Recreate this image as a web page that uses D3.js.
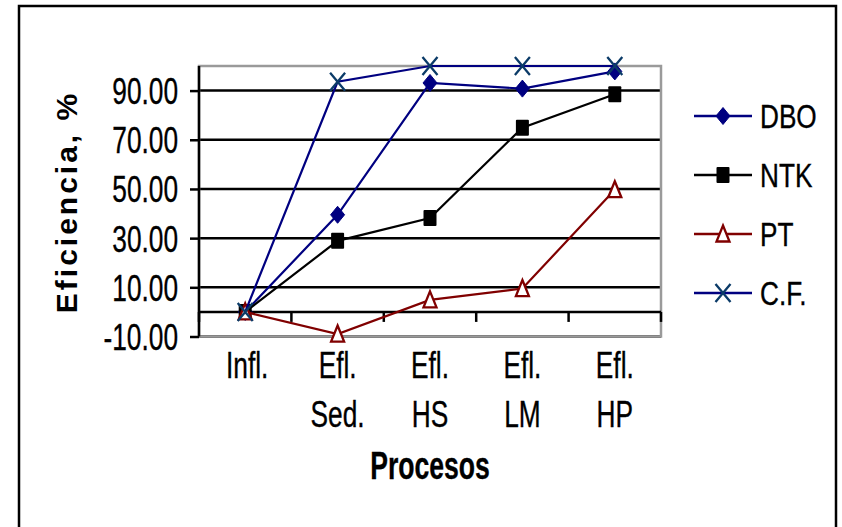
<!DOCTYPE html>
<html>
<head>
<meta charset="utf-8">
<script src="https://cdn.jsdelivr.net/npm/d3@7"></script>
<style>
  html, body { margin: 0; padding: 0; background: #fff; }
  svg { display: block; }
</style>
</head>
<body>
<svg id="chart" width="842" height="527"></svg>
<script>
// Process stages (category axis); a space marks the line break in the label
const categories = ["Infl.", "Efl. Sed.", "Efl. HS", "Efl. LM", "Efl. HP"];

// Removal efficiency (%) per stage
const dbo = [0, 39.5, 93.1, 90.8, 97.8];
const ntk = [0, 28.9, 38.2, 74.9, 88.5];
const pt  = [0, -9.0, 4.9, 9.5, 49.7];
const cf  = [0, 93.6, 100, 100, 100];

const seriesNames = ["DBO", "NTK", "PT", "C.F."];
const yTicks = [-10, 10, 30, 50, 70, 90];

const series = [
  { name: seriesNames[0], values: dbo, line: "#000080", marker: "diamond" },
  { name: seriesNames[1], values: ntk, line: "#000000", marker: "square" },
  { name: seriesNames[2], values: pt,  line: "#800000", marker: "triangle" },
  { name: seriesNames[3], values: cf,  line: "#000080", marker: "cross" }
];

const FONT = "Liberation Sans, Arial, sans-serif";
const SX = 0.73;            // horizontal squeeze to get a narrow face

const svg = d3.select("#chart");

// condensed text placed at (x, y)
function narrowText(parent, x, y, str, o = {}) {
  const sx = o.sx || SX;
  return parent.append("text")
    .attr("transform", `translate(${x},${y}) scale(${sx},1)`)
    .attr("font-family", FONT)
    .attr("font-size", o.size || 36)
    .attr("font-weight", o.weight || "normal")
    .attr("text-anchor", o.anchor || "start")
    .attr("dy", o.dy || 0)
    .attr("fill", "#000")
    .attr("stroke", "#000").attr("stroke-width", 0.35)
    .text(str);
}

// outer chart frame
svg.append("rect")
  .attr("x", 19).attr("y", 6)
  .attr("width", 817).attr("height", 540)
  .attr("fill", "#fff").attr("stroke", "#000").attr("stroke-width", 2.5);

const plot = { left: 199, right: 661, top: 66, bottom: 336.5 };

const x = d3.scaleBand().domain(categories).range([plot.left, plot.right]).padding(0);
const y = d3.scaleLinear().domain([-10, 100]).range([plot.bottom, plot.top]);
const cx = c => x(c) + x.bandwidth() / 2;

// horizontal gridlines
svg.append("g").selectAll("line").data(yTicks).join("line")
  .attr("x1", plot.left).attr("x2", plot.right)
  .attr("y1", d => y(d)).attr("y2", d => y(d))
  .attr("stroke", "#000").attr("stroke-width", 2.5);

// plot area border
svg.append("rect")
  .attr("x", plot.left).attr("y", y(100))
  .attr("width", plot.right - plot.left).attr("height", y(-10) - y(100))
  .attr("fill", "none").attr("stroke", "#9a9a9a").attr("stroke-width", 2.5);

// value axis on the left
const fmt = d => d3.format(".2f")(d).replace("\u2212", "-");
const yAxis = d3.axisLeft(y).tickValues(yTicks).tickSize(9).tickFormat(fmt);
const gy = svg.append("g").attr("transform", `translate(${plot.left},0)`).call(yAxis);
gy.select(".domain").attr("stroke", "#000").attr("stroke-width", 2.5)
  .attr("d", `M0,${y(-10)}V${y(100)}`);
gy.selectAll(".tick line").attr("stroke", "#000").attr("stroke-width", 2.5);
gy.selectAll(".tick text").remove();
gy.selectAll(".tick").each(function (d) {
  narrowText(d3.select(this), -21, 0, fmt(d), { anchor: "end", dy: "0.36em" });
});

// category axis crossing at zero, ticks on the band boundaries
const boundaries = categories.map(c => x(c)).concat([plot.right]);
svg.append("line")
  .attr("x1", plot.left).attr("x2", plot.right)
  .attr("y1", y(0)).attr("y2", y(0))
  .attr("stroke", "#000").attr("stroke-width", 2.5);
svg.append("g").selectAll("line").data(boundaries).join("line")
  .attr("x1", d => d).attr("x2", d => d)
  .attr("y1", y(0)).attr("y2", y(0) + 10)
  .attr("stroke", "#000").attr("stroke-width", 2.5);

// category labels (two lines)
const xl = svg.append("g");
categories.forEach(c => {
  const parts = c.split(" ");
  parts.forEach((p, i) => {
    narrowText(xl, cx(c) + (parts.length === 1 ? 2 : 0), 378 + i * 49, p, { anchor: "middle" });
  });
});

// axis titles
narrowText(svg, 430, 479, "Procesos", { anchor: "middle", weight: "bold", size: 38, sx: 0.70 });
svg.append("text")
  .attr("transform", "translate(77,202) rotate(-90)")
  .attr("text-anchor", "middle")
  .attr("font-family", FONT)
  .attr("font-size", 30).attr("font-weight", "bold")
  .attr("letter-spacing", 3)
  .text("Eficiencia, %");

// marker shapes
function drawMarker(g, type, px, py) {
  if (type === "diamond") {
    g.append("path").attr("d", `M${px},${py - 8.5}L${px + 7},${py}L${px},${py + 8.5}L${px - 7},${py}Z`)
      .attr("fill", "#000080").attr("stroke", "#000080").attr("stroke-width", 1);
  } else if (type === "square") {
    g.append("rect").attr("x", px - 6.5).attr("y", py - 8).attr("width", 13).attr("height", 16)
      .attr("fill", "#000").attr("rx", 1);
  } else if (type === "triangle") {
    g.append("path").attr("d", `M${px},${py - 8.5}L${px + 6.5},${py + 7.5}L${px - 6.5},${py + 7.5}Z`)
      .attr("fill", "#fff").attr("stroke", "#800000").attr("stroke-width", 2.3);
  } else if (type === "cross") {
    g.append("path").attr("d", `M${px - 7.5},${py - 9}L${px + 7.5},${py + 9}M${px + 7.5},${py - 9}L${px - 7.5},${py + 9}`)
      .attr("stroke", "#0b3b68").attr("stroke-width", 2.3).attr("fill", "none");
  }
}

const line = d3.line().x((d, i) => cx(categories[i])).y(d => y(d));

series.forEach(s => {
  const g = svg.append("g");
  g.append("path").datum(s.values).attr("d", line)
    .attr("fill", "none").attr("stroke", s.line).attr("stroke-width", 2.2);
  s.values.forEach((v, i) => drawMarker(g, s.marker, cx(categories[i]), y(v)));
});

// legend
const lg = svg.append("g");
series.forEach((s, i) => {
  const ly = 116 + i * 59;
  lg.append("line").attr("x1", 694).attr("x2", 752).attr("y1", ly).attr("y2", ly)
    .attr("stroke", s.line).attr("stroke-width", 2.5);
  drawMarker(lg, s.marker, 723, ly);
  narrowText(lg, 760, ly, s.name, { dy: "0.36em", size: 34, sx: 0.77 });
});
</script>
</body>
</html>
